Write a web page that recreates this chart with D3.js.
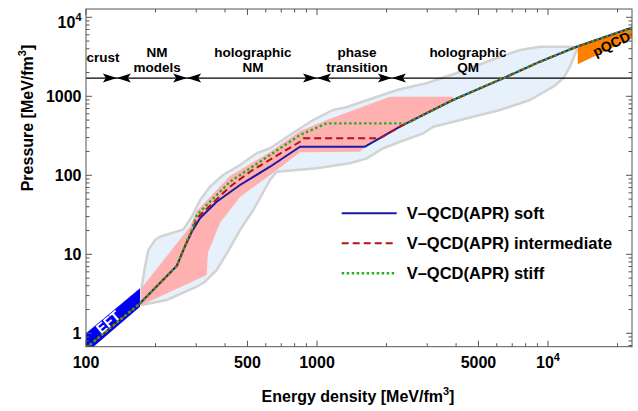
<!DOCTYPE html>
<html>
<head>
<meta charset="utf-8">
<script src="https://cdn.jsdelivr.net/npm/d3@7"></script>
<style>
  body { margin: 0; background: #fff; }
  text { font-family: "Liberation Sans", Arial, sans-serif; font-weight: bold; fill: #000; }
</style>
</head>
<body>
<svg id="chart" width="638" height="411"></svg>
<script>
// ---- data (energy density e [MeV/fm^3], pressure p [MeV/fm^3]) ----
const softE  = [100, 171, 247, 268, 287, 312, 368, 464, 626, 844, 1614, 2287, 2876, 3879, 6385, 9230, 13310, 23340];
const softP  = [0.652, 2.38, 7.11, 12.5, 19.3, 28.8, 46.3, 75.4, 128.5, 230, 230, 412, 580, 898, 1690, 2742, 4245, 7470];
const interE = [100, 171, 247, 268, 287, 301.5, 420, 513, 658, 844, 872, 1874, 2287, 2876, 3879, 6385, 9230, 13310, 23340];
const interP = [0.652, 2.38, 7.11, 12.6, 19.6, 28.6, 71.7, 111, 172, 266, 294, 294, 412, 580, 898, 1690, 2742, 4245, 7470];
const stiffE = [100, 171, 247, 268, 287, 301.5, 420, 513, 658, 844, 1102, 2446, 2876, 3879, 6385, 9230, 13310, 23340];
const stiffP = [0.652, 2.38, 7.11, 12.8, 20.5, 31.4, 83, 122.6, 199, 324, 455, 455, 580, 898, 1690, 2742, 4245, 7470];

// outer envelope (upper edge left->right, then lower edge right->left)
const envE = [174, 180, 186, 199, 209, 264, 287, 312, 344, 392, 464, 548, 626, 787, 961, 1173, 1349, 2220, 2994, 4159, 6015, 7564, 9235, 11650, 13310,
              13310, 12450, 11650, 10540, 8358, 6198, 4749, 3188, 2886, 2287, 1936, 1642, 1390, 997, 669, 626, 530, 464, 407, 368, 327.5, 301.5, 223.6, 174];
const envP = [3.75, 6.97, 11.3, 15.2, 16.7, 20.7, 29.9, 48.7, 71.7, 101, 135, 190, 220, 343, 501, 671, 732, 1201, 1474, 2031, 3053, 3856, 4244, 4244, 4213,
              3856, 2369, 1690, 1323, 898, 671, 552, 412, 340, 266, 220, 164, 142, 123, 111, 87.2, 36.4, 20.3, 10.3, 6.33, 4.5, 3.89, 2.64, 2.28];

// pink band
const pinkE = [174, 282, 301.5, 420, 626, 844, 1102, 2070, 3879, 3879, 2876, 2287, 1614, 1535, 844, 645, 464, 380, 337, 333, 174];
const pinkP = [3.75, 22.4, 35.3, 98, 197, 364, 501, 988, 988, 898, 580, 412, 230, 199, 196, 107, 53.1, 24.9, 10.4, 5.47, 2.28];

// EFT and pQCD bands
const eftE = [100, 171.3, 171.3, 100];
const eftP = [1.0, 3.71, 2.17, 0.56];
const pqcdE = [13450, 23100, 23100, 13450];
const pqcdP = [4213, 7470, 5420, 2541];

// region annotations
const boundaryE = [136, 274, 1000, 2110];
const regionP = 1700;
const regionNames = [["crust"], ["NM", "models"], ["holographic", "NM"], ["phase", "transition"], ["holographic", "QM"]];
const regionE = [118.5, 203, 528, 1490, 4505];

// ticks
const xMajor = [100, 500, 1000, 5000, 10000];
const xLabels = ["100", "500", "1000", "5000", ["10", "4"]];
const xMinor = [200, 300, 400, 600, 700, 800, 900, 2000, 3000, 4000, 6000, 7000, 8000, 9000, 20000];
const yMajor = [1, 10, 100, 1000, 10000];
const yLabels = ["1", "10", "100", "1000", ["10", "4"]];
const yMinor = [0.7, 0.8, 0.9, 2, 3, 4, 5, 6, 7, 8, 9, 20, 30, 40, 50, 60, 70, 80, 90,
                200, 300, 400, 500, 600, 700, 800, 900, 2000, 3000, 4000, 5000, 6000, 7000, 8000, 9000];

const series = [
  { name: "V\u2013QCD(APR) soft", e: softE, p: softP, color: "#1a1aa6", dash: null, w: 2 },
  { name: "V\u2013QCD(APR) intermediate", e: interE, p: interP, color: "#b01414", dash: "7,4", w: 2 },
  { name: "V\u2013QCD(APR) stiff", e: stiffE, p: stiffP, color: "#26ad26", dash: "2.5,2.5", w: 2.4 }
];

// ---- layout ----
const svg = d3.select('#chart');
const margin = { top: 9, right: 6, bottom: 64.3, left: 86 };
const W = 638, H = 411;
const x = d3.scaleLog().domain([100, 23100]).range([margin.left, W - margin.right]);
const y = d3.scaleLog().domain([0.677, 12740]).range([H - margin.bottom, margin.top]);
const [x0, x1] = x.range();
const [y0, y1] = y.range();

svg.append('defs').append('clipPath').attr('id', 'plotclip')
  .append('rect').attr('x', x0).attr('y', y1).attr('width', x1 - x0).attr('height', y0 - y1);

const plot = svg.append('g').attr('clip-path', 'url(#plotclip)');
const zip = (es, ps) => es.map((e, i) => [e, ps[i]]);
const area = d3.line().x(d => x(d[0])).y(d => y(d[1]));

// envelope
plot.append('path').datum(zip(envE, envP)).attr('d', d => area(d) + 'Z')
  .attr('fill', '#e6f1fb').attr('stroke', '#d3d3d3').attr('stroke-width', 2.5).attr('stroke-linejoin', 'round');
// pink band
plot.append('path').datum(zip(pinkE, pinkP)).attr('d', d => area(d) + 'Z').attr('fill', '#ffb0b0');
// EFT band
plot.append('path').datum(zip(eftE, eftP)).attr('d', d => area(d) + 'Z').attr('fill', '#0000f0');
// pQCD band
plot.append('path').datum(zip(pqcdE, pqcdP)).attr('d', d => area(d) + 'Z').attr('fill', '#ff8000');

// horizontal line with region arrows
const yr = y(regionP);
plot.append('line').attr('x1', x0).attr('x2', x1).attr('y1', yr).attr('y2', yr)
  .attr('stroke', '#000').attr('stroke-width', 1.3);
boundaryE.forEach(b => {
  const bx = x(b);
  [-1, 1].forEach(s => {
    plot.append('path')
      .attr('d', `M${bx},${yr} L${bx + s * 14},${yr - 4.5} L${bx + s * 11},${yr} L${bx + s * 14},${yr + 4.5} Z`)
      .attr('fill', '#000');
  });
});

// curves
series.forEach(s => {
  plot.append('path').datum(zip(s.e, s.p)).attr('d', area)
    .attr('fill', 'none').attr('stroke', s.color).attr('stroke-width', s.w)
    .attr('stroke-dasharray', s.dash).attr('stroke-linejoin', 'round');
});

// band labels
plot.append('text').attr('transform', `translate(${x(124.5)},${y(1.39)}) rotate(-40)`)
  .attr('text-anchor', 'middle').attr('dy', '0.35em').style('font-size', '14px').style('fill', '#fff').text('EFT');
plot.append('text').attr('transform', `translate(${x(18830)},${y(4592)}) rotate(-26)`)
  .attr('text-anchor', 'middle').attr('dy', '0.35em').style('font-size', '14px').text('pQCD');

// region labels
regionNames.forEach((lines, i) => {
  lines.forEach((ln, j) => {
    svg.append('text').attr('text-anchor', 'middle').style('font-size', '13.5px')
      .attr('x', x(regionE[i]))
      .attr('y', lines.length === 1 ? 62 : 57 + j * 15)
      .text(ln);
  });
});

// ---- frame & ticks ----
const frame = svg.append('g').attr('stroke', '#555').attr('stroke-width', 1);
frame.append('rect').attr('x', x0).attr('y', y1).attr('width', x1 - x0).attr('height', y0 - y1).attr('fill', 'none');
function xTicks(vals, len) {
  vals.forEach(v => {
    frame.append('line').attr('x1', x(v)).attr('x2', x(v)).attr('y1', y0).attr('y2', y0 - len);
    frame.append('line').attr('x1', x(v)).attr('x2', x(v)).attr('y1', y1).attr('y2', y1 + len);
  });
}
function yTicks(vals, len) {
  vals.forEach(v => {
    frame.append('line').attr('y1', y(v)).attr('y2', y(v)).attr('x1', x0).attr('x2', x0 + len);
    frame.append('line').attr('y1', y(v)).attr('y2', y(v)).attr('x1', x1).attr('x2', x1 - len);
  });
}
xTicks(xMajor, 6); xTicks(xMinor, 3.5);
yTicks(yMajor, 6); yTicks(yMinor, 3.5);

function label(t, lab) {
  if (Array.isArray(lab)) {
    t.append('tspan').text(lab[0]);
    t.append('tspan').attr('dy', -7).style('font-size', '11px').text(lab[1]);
  } else t.text(lab);
}
xMajor.forEach((v, i) => {
  const t = svg.append('text').attr('x', x(v)).attr('y', 367.5).attr('text-anchor', 'middle').style('font-size', '16px');
  label(t, xLabels[i]);
});
yMajor.forEach((v, i) => {
  const isPow = Array.isArray(yLabels[i]);
  const t = svg.append('text').attr('x', 81.5).attr('y', y(v) + (isPow ? 11 : 5.7)).attr('text-anchor', 'end').style('font-size', '16px');
  label(t, yLabels[i]);
});

// axis titles
const xt = svg.append('text').attr('x', 358).attr('y', 401.7).attr('text-anchor', 'middle').style('font-size', '16px');
xt.append('tspan').text('Energy density [MeV/fm');
xt.append('tspan').attr('dy', -7).style('font-size', '11px').text('3');
xt.append('tspan').attr('dy', 7).text(']');
const yt = svg.append('text').attr('transform', 'translate(33,118) rotate(-90)').attr('text-anchor', 'middle').style('font-size', '16px');
yt.append('tspan').text('Pressure [MeV/fm');
yt.append('tspan').attr('dy', -7).style('font-size', '11px').text('3');
yt.append('tspan').attr('dy', 7).text(']');

// legend
const legend = svg.append('g');
series.forEach((s, i) => {
  const ly = 213.3 + i * 30;
  legend.append('line').attr('x1', 341.7).attr('x2', 396.7).attr('y1', ly).attr('y2', ly)
    .attr('stroke', s.color).attr('stroke-width', s.w).attr('stroke-dasharray', s.dash);
  legend.append('text').attr('x', 406.7).attr('y', ly).attr('dy', '0.35em').style('font-size', '16.5px').text(s.name);
});
</script>
</body>
</html>
